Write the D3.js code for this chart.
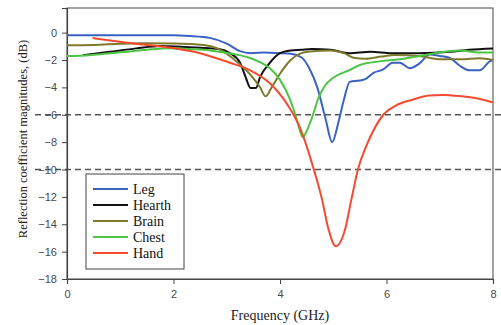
<!DOCTYPE html>
<html>
<head>
<meta charset="utf-8">
<script src="https://cdn.jsdelivr.net/npm/d3@7"></script>
<style>
  body { margin: 0; background: #fff; }
  .tick text { font-family: "Liberation Sans", Arial, sans-serif; font-size: 11px; fill: #4a4a4a; }
  .axis-title { font-family: "Liberation Serif", "Times New Roman", serif; fill: #222; }
  .legend text { font-family: "Liberation Serif", "Times New Roman", serif; font-size: 14px; fill: #111; }
</style>
</head>
<body>
<svg width="501" height="325"></svg>
<script>
// series names (as in the legend)
const names = ["Leg", "Hearth", "Brain", "Chest", "Hand"];
const colors = ["#3a62c2", "#111111", "#7d7a2c", "#4cc444", "#f44a30"];

// [frequency GHz, reflection dB]
const leg = [[0,-0.2],[1,-0.2],[2,-0.2],[2.3,-0.25],[2.7,-0.4],[3.0,-0.8],[3.25,-1.35],[3.45,-1.5],[3.7,-1.45],[4.0,-1.5],[4.2,-1.55],[4.4,-1.8],[4.55,-2.6],[4.7,-4.0],[4.85,-6.2],[4.98,-8.0],[5.1,-6.5],[5.2,-4.9],[5.31,-3.6],[5.5,-3.5],[5.6,-3.4],[5.75,-2.95],[5.93,-2.7],[6.12,-2.2],[6.25,-2.2],[6.44,-2.6],[6.62,-2.25],[6.81,-1.6],[7.0,-1.7],[7.19,-1.85],[7.37,-2.4],[7.56,-2.75],[7.75,-2.75],[7.94,-2.1],[8,-2.0]];
const hearth = [[0.3,-1.65],[0.8,-1.4],[1.3,-1.15],[1.75,-0.97],[2.2,-1.05],[2.5,-1.1],[2.85,-1.2],[3.06,-1.5],[3.25,-2.2],[3.35,-3.2],[3.45,-4.05],[3.55,-4.05],[3.62,-3.3],[3.81,-2.2],[4.0,-1.5],[4.2,-1.3],[4.4,-1.25],[4.6,-1.2],[4.95,-1.25],[5.3,-1.5],[5.7,-1.4],[6.1,-1.5],[6.6,-1.5],[7.2,-1.4],[7.55,-1.25],[8,-1.15]];
const brain = [[0,-0.92],[0.5,-0.9],[1.0,-0.82],[1.45,-0.78],[2.0,-0.8],[2.4,-0.85],[2.7,-1.0],[2.9,-1.3],[3.15,-2.0],[3.45,-3.1],[3.62,-3.95],[3.73,-4.65],[3.85,-3.95],[4.0,-3.0],[4.2,-2.0],[4.4,-1.5],[4.56,-1.38],[4.95,-1.3],[5.2,-1.5],[5.4,-1.85],[5.6,-1.9],[5.9,-1.75],[6.15,-1.63],[6.6,-1.7],[7.0,-1.95],[7.4,-1.95],[7.75,-1.87],[8,-2.0]];
const chest = [[0,-1.7],[0.25,-1.68],[0.7,-1.55],[1.13,-1.39],[1.5,-1.25],[1.95,-1.14],[2.3,-1.2],[2.69,-1.3],[3.1,-1.55],[3.44,-1.85],[3.62,-2.15],[3.81,-2.6],[4.0,-3.45],[4.19,-4.9],[4.32,-6.4],[4.43,-7.65],[4.5,-7.2],[4.62,-6.0],[4.71,-4.9],[4.84,-3.9],[5.0,-3.3],[5.31,-2.73],[5.5,-2.36],[5.87,-2.1],[6.25,-1.95],[6.62,-1.7],[6.91,-1.5],[7.37,-1.3],[7.75,-1.45],[8,-1.45]];
const hand = [[0.48,-0.4],[0.85,-0.6],[1.24,-0.8],[1.88,-1.07],[2.5,-1.5],[3.06,-2.2],[3.44,-2.75],[3.81,-3.7],[4.06,-4.8],[4.24,-5.9],[4.37,-6.9],[4.62,-9.8],[4.79,-12.2],[4.9,-14.2],[5.05,-15.6],[5.22,-14.4],[5.34,-12.2],[5.47,-9.9],[5.62,-8.3],[5.94,-6.0],[6.19,-5.3],[6.49,-4.9],[6.8,-4.6],[7.06,-4.55],[7.4,-4.65],[7.69,-4.8],[8,-5.1]];
const seriesData = [leg, hearth, brain, chest, hand];

const xTicks = [0, 2, 4, 6, 8];
const yTicks = [0, -2, -4, -6, -8, -10, -12, -14, -16, -18];
const refLevels = [-6, -10];

const svg = d3.select("svg");
const margin = {top: 8, right: 8, bottom: 46, left: 67};
const width = +svg.attr("width") - margin.left - margin.right;
const height = +svg.attr("height") - margin.top - margin.bottom;

const x = d3.scaleLinear().domain([0, 8]).range([0, width]);
const y = d3.scaleLinear().domain([-18, 1.8]).range([height, 0]);

const g = svg.append("g").attr("transform", "translate(" + margin.left + "," + margin.top + ")");

// frame
g.append("rect")
  .attr("width", width).attr("height", height)
  .attr("fill", "none").attr("stroke", "#444").attr("stroke-width", 1);

// dashed reference lines (run past the plot on both sides)
g.selectAll(".ref")
  .data(refLevels)
  .enter().append("line")
  .attr("class", "ref")
  .attr("x1", -32).attr("x2", width + 10)
  .attr("y1", d => y(d)).attr("y2", d => y(d))
  .attr("stroke", "#555").attr("stroke-width", 1.5)
  .attr("stroke-dasharray", "6,4");

const xAxis = g.append("g")
  .attr("transform", "translate(0," + height + ")")
  .call(d3.axisBottom(x).tickValues(xTicks).tickSize(5).tickPadding(6));
const yAxis = g.append("g")
  .call(d3.axisLeft(y).tickValues(yTicks).tickSize(5).tickPadding(5));
[xAxis, yAxis].forEach(a => {
  a.select(".domain").attr("stroke", "#444").attr("stroke-width", 1.2);
  a.selectAll(".tick line").attr("stroke", "#444");
});

const line = d3.line()
  .x(d => x(d[0]))
  .y(d => y(d[1]))
  .curve(d3.curveMonotoneX);

g.selectAll(".series")
  .data(seriesData)
  .enter().append("path")
  .attr("class", "series")
  .attr("fill", "none")
  .attr("stroke", (d, i) => colors[i])
  .attr("stroke-width", 2)
  .attr("d", line);

// axis titles
svg.append("text")
  .attr("class", "axis-title")
  .attr("x", 280)
  .attr("y", 320)
  .attr("font-size", 14)
  .attr("text-anchor", "middle")
  .text("Frequency (GHz)");
svg.append("text")
  .attr("class", "axis-title")
  .attr("transform", "translate(27,139) rotate(-90)")
  .attr("font-size", 12.5)
  .attr("text-anchor", "middle")
  .text("Reflection coefficient magnitudes, (dB)");

// legend
const legend = svg.append("g").attr("class", "legend").attr("transform", "translate(86,174)");
legend.append("rect")
  .attr("width", 98).attr("height", 95)
  .attr("fill", "#fff").attr("stroke", "#444").attr("stroke-width", 1);
const rows = legend.selectAll(".row")
  .data(names)
  .enter().append("g")
  .attr("transform", (d, i) => "translate(0," + (15 + i * 16) + ")");
rows.append("line")
  .attr("x1", 7).attr("x2", 42)
  .attr("stroke", (d, i) => colors[i]).attr("stroke-width", 2);
rows.append("text")
  .attr("x", 47).attr("dy", "0.35em")
  .text(d => d);
</script>
</body>
</html>
